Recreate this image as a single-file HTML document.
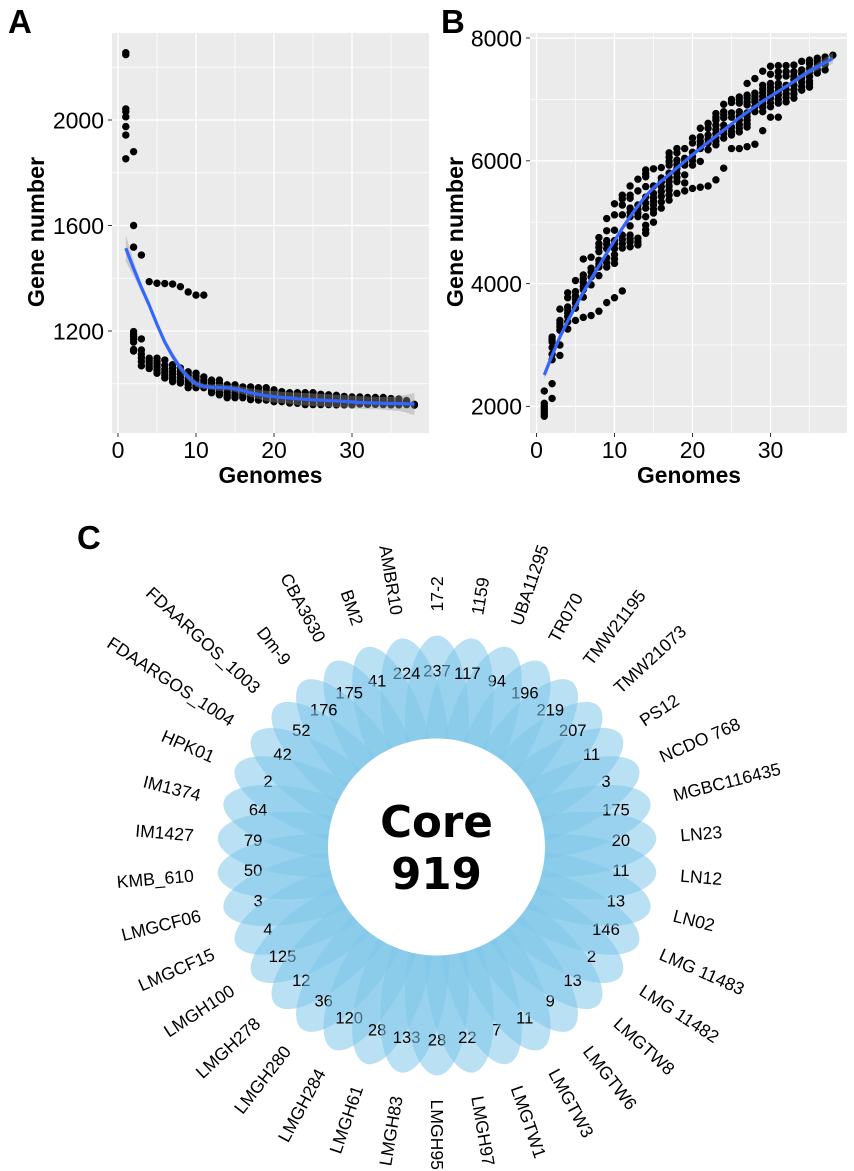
<!DOCTYPE html>
<html lang="en">
<head>
<meta charset="utf-8">
<title>Pan-genome curves and core gene flower plot</title>
<style>
html,body{margin:0;padding:0;background:#fff;width:854px;height:1171px;overflow:hidden}
svg{display:block}
text{font-family:"Liberation Sans",sans-serif;fill:#000}
</style>
</head>
<body>
<svg id="figure" xmlns="http://www.w3.org/2000/svg" width="854" height="1171" viewBox="0 0 854 1171">
<text x="8" y="33" font-size="33" font-weight="700">A</text>
<text x="441" y="33" font-size="33" font-weight="700">B</text>
<text x="77" y="549" font-size="33" font-weight="700">C</text>
</svg>
<script>
const xTicks = [0, 10, 20, 30];
const xMinorTicks = [5, 15, 25, 35];
const panelAYTicks = [1200, 1600, 2000];
const panelAYMinorTicks = [1000, 1400, 1800, 2200];
const panelBYTicks = [2000, 4000, 6000, 8000];
const panelBYMinorTicks = [3000, 5000, 7000];

const panelACoreCounts = [
[2255,2248,2042,2032,2012,1975,1943,1853],
[1880,1600,1518,1198,1188,1178,1168,1158,1130,1124],
[1488,1170,1128,1112,1098,1084,1068],
[1387,1097,1088,1078,1068,1058],
[1381,1097,1086,1075,1064,1052,1040],
[1380,1090,1070,1055,1044,1032,1022],
[1378,1072,1060,1048,1036,1024,1015,1008],
[1368,1060,1048,1036,1024,1012,1003],
[1348,1045,1033,1021,1009,997,985],
[1336,1040,1028,1016,1004,994,985],
[1336,1026,1014,1004,994,985],
[1014,1004,994,984,975,966],
[1014,1002,990,978,966,958],
[996,986,976,966,956,947],
[996,986,976,966,956,947],
[988,978,968,958,947],
[988,976,964,952,940],
[985,974,962,950,938],
[985,973,961,949,938],
[977,966,955,944,932],
[970,960,950,940,932],
[966,957,948,939,927],
[966,956,946,936,926],
[966,955,944,933,921],
[966,955,944,933,921],
[960,950,940,930,921],
[958,948,938,928,921],
[956,946,936,926,920],
[952,943,934,925,920],
[950,941,932,923,920],
[950,941,932,923],
[948,939,930,922],
[948,939,930,922],
[948,938,929,921],
[944,935,927,920],
[942,933,925,920],
[936,928,921],
[922,919]
];
const panelASmooth = [1514,1437,1365,1298,1225,1158,1105,1060,1025,1000,990,987,986,985,981,974,966,960,954,951,948,946,943,941,939,938,936,935,933,931,929,928,927,926,925,925,924,923];
const panelASmoothError = [50,30,16,12,12,14,16,16,14,12,10,10,14,10,12,14,16,18,20,22,22,22,24,24,24,24,24,24,24,24,24,24,24,24,26,28,34,42];

const panelBPanCounts = [
[2250,2050,2000,1960,1920,1880,1840],
[3130,3090,3050,2960,2850,2760,2370,2130],
[3585,3400,3350,3300,3240,3000,2830],
[3850,3770,3620,3570,3520,3460,3380,3260],
[4050,3870,3800,3740,3680,3600,3400],
[4400,4140,4080,4020,3960,3900,3780,3450],
[4430,4250,4190,4110,3980,3480],
[4750,4650,4590,4520,4380,4320,4270,4130,3550],
[5060,4860,4700,4640,4570,4420,4340,4270,3690],
[5300,5120,4870,4700,4640,4570,4470,4400,4330,3770],
[5440,5380,5280,5120,4790,4720,4650,4580,3880],
[5590,5440,5390,5230,5160,5090,4940,4790,4730,4680,4600],
[5700,5510,5280,5210,5150,5090,4740,4680,4630],
[5850,5790,5740,5580,5410,5310,5230,5090,4950,4880,4820],
[5870,5590,5470,5400,5340,5280,5210,5150,5000],
[5890,5720,5650,5580,5500,5420,5330,5230],
[6130,6060,5990,5930,5800,5730,5660,5590,5520,5440,5360],
[6200,6130,6010,5940,5870,5800,5730,5660,5470],
[6200,6040,5980,5930,5770,5640,5510],
[6370,6290,6140,6070,6000,5930,5550],
[6530,6390,6320,6260,6200,5990,5570],
[6610,6530,6420,6350,6290,6180,5590],
[6770,6710,6660,6580,6510,6440,6380,6320,6260,5690],
[6920,6800,6750,6700,6580,6510,6440,6370,5880],
[7000,6950,6780,6710,6550,6480,6420,6200],
[7040,6990,6940,6800,6730,6660,6590,6530,6470,6200],
[7260,7070,7020,6960,6910,6780,6720,6660,6600,6550,6230],
[7340,7100,7050,7000,6960,6880,6800,6270],
[7460,7230,7170,7110,7050,6990,6930,6870,6800,6490],
[7540,7410,7260,7200,7140,7080,7020,6950,6880,6710],
[7550,7450,7370,7260,7200,7130,7070,7000,6940,6710],
[7550,7450,7380,7230,7160,7090,7030,6960],
[7560,7450,7380,7320,7230,7160,7090,7020],
[7620,7480,7420,7350,7280,7210,7150],
[7640,7580,7510,7440,7370,7300,7250,7200],
[7670,7620,7560,7490,7430],
[7690,7630,7570,7480],
[7720]
];
const panelBSmooth = [2511,2830,3130,3390,3630,3860,4075,4285,4495,4700,4900,5090,5265,5425,5560,5670,5775,5885,5990,6100,6200,6300,6400,6500,6600,6700,6790,6880,6970,7050,7130,7210,7290,7380,7460,7530,7600,7670];
const panelBSmoothError = [70,50,40,30,28,26,25,24,24,24,24,24,24,24,24,24,24,24,24,24,24,24,24,24,24,24,24,24,24,26,28,30,34,40,48,60,75,90];

const strainNames = ["17-2","1159","UBA11295","TR070","TMW21195","TMW21073","PS12","NCDO 768","MGBC116435","LN23","LN12","LN02","LMG 11483","LMG 11482","LMGTW8","LMGTW6","LMGTW3","LMGTW1","LMGH97","LMGH95","LMGH83","LMGH61","LMGH284","LMGH280","LMGH278","LMGH100","LMGCF15","LMGCF06","KMB_610","IM1427","IM1374","HPK01","FDAARGOS_1004","FDAARGOS_1003","Dm-9","CBA3630","BM2","AMBR10"];
const uniqueGeneCounts = [237,117,94,196,219,207,11,3,175,20,11,13,146,2,13,9,11,7,22,28,133,28,120,36,12,125,4,3,50,79,64,2,42,52,176,175,41,224];
const coreLabelWord = "Core";
const coreGeneCount = 919;

const NS = "http://www.w3.org/2000/svg";
const root = document.getElementById("figure");
function make(tag, attrs, parent) {
  const node = document.createElementNS(NS, tag);
  for (const k in attrs) node.setAttribute(k, attrs[k]);
  (parent || root).appendChild(node);
  return node;
}

function drawPanel(cfg) {
  const g = make("g", {});
  
  
  const bg = make("rect", {x: cfg.left, y: cfg.top, width: cfg.right - cfg.left, height: cfg.bottom - cfg.top, fill: "#ebebeb"}, g);
  
  
  cfg.xMinor.forEach(function (t) {
    const l = make("line", {x1: cfg.sx(t), x2: cfg.sx(t), y1: cfg.top, y2: cfg.bottom, stroke: "#fff", "stroke-width": 0.7}, g);
    
    
  });
  cfg.yMinor.forEach(function (t) {
    const l = make("line", {x1: cfg.left, x2: cfg.right, y1: cfg.sy(t), y2: cfg.sy(t), stroke: "#fff", "stroke-width": 0.7}, g);
    
    
  });
  cfg.xMajor.forEach(function (t) {
    const x = cfg.sx(t);
    const l = make("line", {x1: x, x2: x, y1: cfg.top, y2: cfg.bottom, stroke: "#fff", "stroke-width": 1.3}, g);
    
    
    const tick = make("line", {x1: x, x2: x, y1: cfg.bottom, y2: cfg.bottom + 4, stroke: "#333", "stroke-width": 1}, g);
    
    
    const lab = make("text", {x: x, y: 458, "font-size": 23, "text-anchor": "middle"}, g);
    lab.textContent = t;
    
    
  });
  cfg.yMajor.forEach(function (t) {
    const y = cfg.sy(t);
    const l = make("line", {x1: cfg.left, x2: cfg.right, y1: y, y2: y, stroke: "#fff", "stroke-width": 1.3}, g);
    
    
    const tick = make("line", {x1: cfg.left - 4, x2: cfg.left, y1: y, y2: y, stroke: "#333", "stroke-width": 1}, g);
    
    
    const lab = make("text", {x: cfg.left - 8, y: y + 8.3, "font-size": 23, "text-anchor": "end"}, g);
    lab.textContent = t;
    
    
  });
  cfg.points.forEach(function (col, i) {
    col.forEach(function (v) {
      const c = make("circle", {cx: cfg.sx(i + 1), cy: cfg.sy(v), r: 3.7, fill: "#000"}, g);
      
      
    });
  });
  const upper = cfg.smooth.map(function (v, i) { return cfg.sx(i + 1).toFixed(1) + "," + cfg.sy(v + cfg.error[i]).toFixed(1); });
  const lower = cfg.smooth.map(function (v, i) { return cfg.sx(i + 1).toFixed(1) + "," + cfg.sy(v - cfg.error[i]).toFixed(1); }).reverse();
  const band = make("polygon", {points: upper.concat(lower).join(" "), fill: "#999", "fill-opacity": 0.4}, g);
  
  
  const line = make("polyline", {points: cfg.smooth.map(function (v, i) { return cfg.sx(i + 1).toFixed(1) + "," + cfg.sy(v).toFixed(1); }).join(" "), fill: "none", stroke: "#3366ff", "stroke-width": 3.2, "stroke-linejoin": "round"}, g);
  
  
  const xt = make("text", {x: cfg.xTitleX, y: 483, "font-size": 22.8, "font-weight": 700, "text-anchor": "middle"}, g);
  xt.textContent = "Genomes";
  
  
  const yt = make("text", {transform: "translate(" + cfg.yTitleX + ",232) rotate(-90)", "font-size": 23.3, "font-weight": 700, "text-anchor": "middle"}, g);
  yt.textContent = "Gene number";
  
  
}

drawPanel({
  name: "panel-a-core-genes", left: 112, right: 429, top: 33, bottom: 433,
  sx: function (x) { return 118 + x * 7.8; },
  sy: function (v) { return 120 + (2000 - v) * 0.26375; },
  xMajor: xTicks, xMinor: xMinorTicks, yMajor: panelAYTicks, yMinor: panelAYMinorTicks,
  points: panelACoreCounts, smooth: panelASmooth, error: panelASmoothError,
  xTitleX: 270.5, yTitleX: 44
});
drawPanel({
  name: "panel-b-pan-genes", left: 530, right: 847, top: 33, bottom: 433,
  sx: function (x) { return 536.5 + x * 7.8; },
  sy: function (v) { return 38 + (8000 - v) * 0.0614; },
  xMajor: xTicks, xMinor: xMinorTicks, yMajor: panelBYTicks, yMinor: panelBYMinorTicks,
  points: panelBPanCounts, smooth: panelBSmooth, error: panelBSmoothError,
  xTitleX: 689, yTitleX: 463
});

const flowerX = 437, flowerY = 855.5;
const flower = make("g", {});


const step = 360 / strainNames.length;
function polar(r, deg) {
  const a = deg * Math.PI / 180;
  return [flowerX + r * Math.sin(a), flowerY - r * Math.cos(a)];
}
const drawOrder = [0];
for (let i = strainNames.length - 1; i >= 1; i--) drawOrder.push(i);
drawOrder.forEach(function (i) {
  const deg = i * step;
  const petal = make("ellipse", {cx: flowerX, cy: flowerY - 135, rx: 32, ry: 85, fill: "#7fc7e9", "fill-opacity": 0.55, transform: "rotate(" + deg.toFixed(3) + " " + flowerX + " " + flowerY + ")"}, flower);
  
  
  const p = polar(184.5, deg);
  const num = make("text", {x: p[0].toFixed(1), y: p[1].toFixed(1), "font-size": 16.6, "text-anchor": "middle", "dominant-baseline": "central"}, flower);
  num.textContent = uniqueGeneCounts[i];
  
  
});
strainNames.forEach(function (name, i) {
  const deg = i * step;
  const p = polar(244, deg);
  const rightSide = deg <= 180;
  const rot = rightSide ? deg - 90 : deg + 90;
  const label = make("text", {transform: "translate(" + p[0].toFixed(1) + "," + p[1].toFixed(1) + ") rotate(" + rot.toFixed(2) + ")", "font-size": 17.6, "text-anchor": rightSide ? "start" : "end", "dominant-baseline": "central"}, flower);
  label.textContent = name;
  
  
});
const hole = make("circle", {cx: 436.5, cy: 847, r: 108.5, fill: "#fff"}, flower);


const coreWord = make("text", {x: 436.5, y: 837, "font-size": 43.5, "font-weight": 700, "text-anchor": "middle", style: 'font-family:"DejaVu Sans",sans-serif'}, flower);
coreWord.textContent = coreLabelWord;


const coreNum = make("text", {x: 436.5, y: 889, "font-size": 43.5, "font-weight": 700, "text-anchor": "middle", style: 'font-family:"DejaVu Sans",sans-serif'}, flower);
coreNum.textContent = coreGeneCount;


</script>
</body>
</html>
